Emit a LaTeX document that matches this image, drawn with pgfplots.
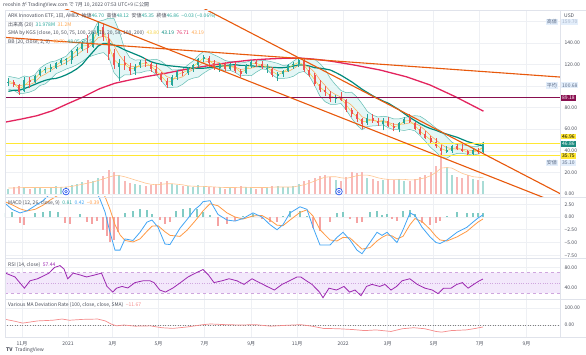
\documentclass[border=0pt]{standalone}
\usepackage{fontspec}
\setmainfont{Noto Sans CJK JP}
\usepackage{pgfplots}
\pgfplotsset{compat=1.18}
\usepackage{pgfplotstable}

\definecolor{upc}{HTML}{26A69A}
\definecolor{dnc}{HTML}{EF5350}
\definecolor{upv}{HTML}{A9DCD6}
\definecolor{dnv}{HTML}{F8B9B7}
\definecolor{sma10}{HTML}{F7D23A}
\definecolor{sma20}{HTML}{FFA64D}
\definecolor{vmac}{HTML}{FFC58F}
\definecolor{sma50}{HTML}{00897B}
\definecolor{sma200}{HTML}{E3245E}
\definecolor{bbline}{HTML}{62BDB3}
\definecolor{bbfill}{HTML}{E4F6F6}
\definecolor{trend}{HTML}{E8590C}
\definecolor{maroon}{HTML}{880E4F}
\definecolor{hyellow}{HTML}{FFE733}
\definecolor{gridc}{HTML}{EEF0F4}
\definecolor{framec}{HTML}{E0E3EB}
\definecolor{macdb}{HTML}{42A5F5}
\definecolor{macdo}{HTML}{FF9A45}
\definecolor{hposc}{HTML}{80CBC4}
\definecolor{hnegc}{HTML}{F5A3A3}
\definecolor{rsic}{HTML}{9C27B0}
\definecolor{rsifill}{HTML}{F3E8FB}
\definecolor{rsiline}{HTML}{CFA6DE}
\definecolor{devc}{HTML}{F58C8C}
\definecolor{txt}{HTML}{4A4E5A}
\definecolor{lblbg}{HTML}{E3EEFB}
\definecolor{lbltx}{HTML}{5B6B86}
\definecolor{lbltxl}{HTML}{A9B5C8}
\definecolor{divc}{HTML}{2F5CF0}
\definecolor{closec}{HTML}{1E8C80}

\newcommand{\sm}{\fontsize{5}{6}\selectfont}

% weekly candles, x = days since 2020-11-01
\pgfplotstableread{
d o h l c v
-18 103 107 100 104 5
3 95 108 94 106 6
17 104 110 103 109 6
24 110 116 109 115 6
31 115 118 112 116 5
38 116 120 113 118 6
45 117 122 116 121 7
52 121 126 119 124 6
59 124 126 119 125 6
66 124 133 120 132 8
73 132 136 128 134 9
80 134 142 132 140 11
94 136 150 135 148 12
101 149 159.7 146 156 15
129 118 125 105 121 18
150 114 120 110 118 9
157 119 124 117 122 8
199 101 110 100 108 9
206 108 115 106 113 8
220 112 118 110 117 7
227 117 120 113 119 6
234 119 126 118 125 8
241 125 129 122 127 7
262 117 121 113 120 6
276 116 121 115 120 6
297 112 120 111 119 6
304 119 124 117 122 6
325 116 120 112 117 6
339 109 113 105 111 7
346 111 115 108 114 6
353 114 120 113 119 6
360 119 122 116 120 7
367 120 126 118 124 9
416 88 92 84 90 13
458 66 74 64 70 15
479 65 70 59 68 13
500 60 67 57 66 14
507 66 71 65 69 12
563 39 44 38 40.5 25
570 40 45 38 44 18
598 37 42 36 41 14
612 39 48.12 38 46.86 12
}\upt

\pgfplotstableread{
d o h l c v
-11 104 106 99 101 6
-4 101 102 92 94 7
10 106 108 98 104 5
87 140 147 131 135 13
108 155 157 142 145 17
115 144 148 124 130 22
122 131 134 116 119 20
136 121 128 115 119 12
143 118 121 110 114 10
164 122 126 118 121 7
171 120 122 113 116 8
178 116 120 110 112 9
185 111 113 104 106 11
192 105 107 98 101 12
213 113 116 109 112 7
248 126 128 118 121 6
255 121 124 115 118 6
269 120 122 114 116 5
283 119 122 112 114 6
290 114 116 108 111 7
311 122 125 118 120 5
318 120 123 116 118 6
332 116 118 108 110 7
374 124 125 113 115 12
381 115 118 108 110 13
388 110 112 100 102 15
395 102 106 94 96 17
402 96 100 91 94 18
409 93 95 85 88 16
423 90 94 86 87 12
430 87 88 76 78 16
437 78 80 71 74 20
444 74 76 67 69 19
451 69 70 60 65 20
465 70 74 66 68 14
472 68 70 63 66 12
486 68 71 62 63 14
493 63 66 58 61 13
514 70 74 66 67 12
521 66 67 59 60 14
528 60 62 55 56 16
535 56 58 51 52 18
542 52 54 47 48 20
549 48 52 43 44 26
556 43 45 35.5 40 38
577 44 47 41 42 16
584 42 46 39 40 15
591 40 41 35.1 37 18
605 41 43 37 39 13
}\dnt

\pgfplotstableread{
d s10 s20 s50 bu bl vma
-18 105 103 95.1 109 97 5.5
-11 102.5 102 96.0 108 96 5.6
-4 97.5 100 96.0 107 93 5.8
3 100 101.3 97.6 109.3 93.3 6
10 105 101.3 99.4 108.3 94.3 6
17 106.5 103.3 101.5 110.3 96.3 6
24 112 108.5 103.5 116.5 100.5 6
31 115.5 111 105.3 120 102 6
38 116.5 114.3 106.5 122.3 106.3 6
45 119 117.3 107 123.3 111.3 6
52 122.5 119.5 108.5 125.5 113.5 6.2
59 124.5 121.8 110.5 127.8 115.8 6.5
66 128.5 125.5 113 133.5 117.5 7
73 133 128.8 116 137.8 119.8 8
80 137 132.8 120 142.8 122.8 9
87 137.5 135.3 126 144.3 126.3 10
94 141.5 139.3 131.5 150.3 128.3 11
101 152 144.8 137 159.8 129.8 12.5
108 150.5 146 139.5 161 131 14
115 137.5 144.8 139.5 162.8 126.8 15.5
122 124.5 137.5 138 162.5 112.5 17
129 120 128.8 136 150.8 106.8 17
136 120 122.3 133.5 134.3 110.3 16
143 116.5 118.3 131.5 126.3 110.3 14.5
150 116 118 129.5 124 112 13
157 120 118.3 127.5 124.3 112.3 11.5
164 121.5 118.8 125 123.8 113.8 10
171 118.5 119.3 122.5 124.3 114.3 9
178 114 117.8 121 124.8 110.8 8.5
185 109 113.8 120 122.8 104.8 9
192 103.5 108.8 119 118.8 98.8 9.5
199 104.5 106.8 118.5 114.8 98.8 9.5
206 110.5 107 118 115 99 9
213 112.5 108.5 117.5 115.5 101.5 8.5
220 114.5 112.5 117 119.5 105.5 7.5
227 118 115.3 116.5 123.3 107.3 7.2
234 122 118.3 116.5 128.3 108.3 7
241 126 122 116.5 132 112 7
248 124 123 117 131 115 6.8
255 119.5 122.8 117.5 128.8 116.8 6.5
262 119 121.5 118.2 126.5 116.5 6.2
269 118 118.8 118.8 123.8 113.8 6
276 118 118.5 119.5 122.5 114.5 6
283 117 117.5 119.7 122.5 112.5 6
290 112.5 115.3 119.1 121.3 109.3 6.2
297 115 116 119.1 122 110 6.2
304 120.5 116.5 118.8 123.5 109.5 6
311 121 118 118.1 123 113 6
318 119 119.8 117.8 123.8 115.8 6
325 117.5 119.3 117.7 123.3 115.3 6
332 113.5 116.3 117.2 122.3 110.3 6.3
339 110.5 114 117 121 107 6.5
346 112.5 113 117 119 107 6.5
353 116.5 113.5 117.5 119.5 107.5 6.5
360 119.5 116 118.5 123 109 6.5
367 122 119.3 119.5 126.3 112.3 7.5
374 119.5 119.5 119.5 125.5 113.5 8.5
381 112.5 117.3 118.5 125.3 109.3 10
388 106 112.8 117 124.8 100.8 12
395 99 105.8 116.5 120.8 90.8 14
402 95 100.5 115.8 115.5 85.5 15.5
409 91 95 114.8 107 83 16
416 89 92 112.5 101 83 16
423 88.5 89.8 110 95.8 83.8 15
430 82.5 85.8 107 93.8 77.8 14.5
437 76 82.3 104 94.3 70.3 15.5
444 71.5 77 100.5 90 64 17
451 67 71.5 97 83.5 59.5 17.5
458 67.5 69.5 94 76.5 62.5 17.5
465 69 68 91 73 63 16.5
472 67 67.3 88.5 71.3 63.3 15
479 67 68 86 72 64 14
486 65.5 66.3 84 71.3 61.3 13.5
493 62 64.5 81 69.5 59.5 13.5
500 63.5 64.5 78 69.5 59.5 13.5
507 67.5 64.8 74.5 70.8 58.8 13.5
514 68 65.8 71 71.8 59.8 13
521 63.5 65.5 68 72.5 58.5 13
528 58 63 65 72 54 14
535 54 58.8 62.5 68.8 48.8 15
542 50 54 60.5 65 43 17
549 46 50 59 61 39 20
556 42 46 57 58 34 24
563 40 43 55.5 53 33 24.5
570 42 42 54 48 36 24
577 43 41.5 52.5 45.5 37.5 21.5
584 41 41.5 50.5 45.5 37.5 19
591 38.5 40.8 48.5 44.8 36.8 17.5
598 39 40 47 44 36 16
605 40 40.5 45.5 44 37 15.5
612 43.8 43.2 44.5 48.05 39.53 15
}\lines

\pgfplotstableread{
d s
-22.5 66.5
0 69.5
20 72.5
40 77
60 83.4
80 89.5
103 97.5
123 102.5
143 105.6
167 109
192 112
214 115
236 117.6
258 120
280 122.2
303 124
325 125
347 125.7
369 125.9
390 124.7
410 123
440 119.5
475 114.8
510 108.5
541 101
575 90
612 76.7
}\smaLong

% lower panes: x = horizontal position on the reference chart
\pgfplotstableread{
x b o
5 2.7 3.0
12 1.5 2.4
20 0.8 1.6
27 1.2 1.2
35 2.2 1.5
43 3.2 2.3
50 4.5 3.3
60 5.5 4.5
70 5.0 5.3
80 6.0 5.5
90 6.5 6.0
95 5.5 6.0
100 3.5 5.5
105 1.0 4.0
110 -3.0 1.5
115 -6.5 -1.5
120 -6.5 -3.5
125 -4.3 -4.6
133 -4.6 -4.9
140 -3.0 -4.3
147 -1.0 -2.8
152 -0.6 -1.8
158 -2.0 -1.7
165 -5.3 -2.9
170 -5.4 -3.6
180 -2.2 -3.8
187 -0.5 -2.6
195 1.5 -0.8
200 2.3 0.4
203 3.0 1.2
210 3.2 2.6
218 0.5 2.2
227 -0.6 0.8
235 -0.8 0
243 -0.3 -0.4
253 0.8 0.2
262 0 0.3
270 -1.5 -0.6
277 -2.5 -1.6
283 -1.5 -1.7
290 0.8 -0.6
300 2.0 0.9
307 1.5 1.4
313 -2.0 0.2
320 -5.5 -2.5
330 -5.5 -4.5
337 -4.0 -4.7
343 -3.0 -4.0
350 -4.5 -4.1
357 -6.5 -5.4
362 -7.2 -6.3
370 -5.0 -6.0
377 -3.0 -4.7
382 -3.6 -4.0
387 -3.0 -3.5
392 -4.0 -3.7
397 -5.0 -4.3
403 -2.5 -3.8
410 0.8 -1.5
415 0.3 -0.3
422 -2.0 -0.9
430 -3.9 -2.4
436 -5.0 -3.8
440 -5.2 -4.5
447 -4.5 -4.7
457 -3.0 -3.9
467 -2.0 -2.8
473 -1.0 -1.8
478 -0.2 -1.0
483 0.42 -0.39
}\macd

\pgfplotstableread{
x h
5 0.8
12 1.0
35 0.7
43 0.9
50 1.2
58 1.0
80 0.5
125 0.8
133 1.2
140 1.6
147 1.3
152 0.5
176 1.2
183 1.5
190 1.7
197 1.6
203 0.9
210 0.3
243 0.1
253 0.6
283 0.2
290 1.2
300 1.1
307 0.1
337 0.7
343 1.0
370 1.0
377 1.2
382 0.4
387 0.5
403 1.2
410 1.4
415 0.6
447 0.2
457 0.9
467 0.8
473 0.8
478 0.8
483 0.81
}\hpos

\pgfplotstableread{
x h
20 -1.2
24 -1.6
65 -1.2
70 -1.4
87 -1.0
92 -1.3
97 -0.8
103 -2.5
107 -3.8
110 -4.9
114 -4.6
118 -3.0
160 -0.6
165 -1.3
170 -0.9
218 -1.7
227 -1.4
235 -0.8
262 -0.3
270 -0.9
277 -0.9
313 -2.2
320 -2.8
330 -1.0
350 -0.4
357 -1.1
362 -0.9
392 -0.3
397 -0.7
422 -1.1
430 -1.5
436 -1.2
440 -0.7
}\hneg

\pgfplotstableread{
x r
5.6 68.9
15 61.5
24.4 39.6
30 54
37.6 58
49 69
54.5 80
60 83.7
64 77
67.7 58
73.3 69
80.8 65
86.5 61.5
94 65
101.5 69
107 43
112.8 32
116.5 39.6
122 43
127.8 40
135 50.5
143 54
150 54
154 50.5
159.8 36
165.4 32
173 40
180.5 50.5
188 61.5
195.5 69
203 76
208.6 65
214 50.5
222 54
229 58
237 54
244 47
252 58
259.4 50.5
267 43
274.4 36
282 47
289.5 54
297 61.5
300.8 61.5
306.4 54
312 47
319.5 32
323 21
329 39.6
336.5 36
344 43
349.6 32
355 36
361 25
366.5 43
372 47
379.7 43
385 47
391 36
396.6 43
402 54
409.8 58
417.3 47
425 39.6
432.3 36
438 29
443.6 39.6
451 39.6
456.8 47
462.4 50.5
468 39.6
473.7 47
479.3 54
483 57.44
}\rsi

\pgfplotstableread{
x v
5.6 33
15 22
22.6 11
37.6 24
52.6 28
62 35
69.5 28
82.7 33
97.7 35
105.3 24
111 6
116.5 -5
124 0
135.3 -7
150.4 -5
161.7 -16
173 -20
188 -11
203 2
210.5 6
225.6 2
240.6 0
255.6 2
270.7 -7
285.7 -2
300.8 2
312 -7
323.3 -20
338.3 -22
353.4 -27
364.7 -33
376 -29
391 -38
402.3 -22
413.5 -16
424.8 -22
436 -38
441.7 -42
451 -33
466 -29
473.7 -22
483 -11.67
}\dev

\begin{document}
\begin{tikzpicture}
\useasboundingbox (0pt,0pt) rectangle (586pt,-355pt);
\fill[white] (0pt,0pt) rectangle (586pt,-355pt);

\pgfplotsset{
  pane/.style={
    scale only axis, width=555pt,
    axis line style={draw=none},
    major tick length=0pt,
    grid=major, grid style={gridc, line width=0.5pt},
    yticklabel pos=right,
    yticklabel style={font=\sm, text=txt, anchor=west, xshift=1pt},
    xticklabels={},
  }
}

% ===== main price pane =====
\begin{axis}[pane, at={(5pt,-197pt)}, anchor=south west, height=187pt,
  xmin=-22.5, xmax=713.5, ymin=-2.8, ymax=170.4,
  xtick={0,61,120,181,242,304,365,426,485,546,607,669},
  ytick={0,20,40,60,80,100,120,140,160},
  yticklabels={0.00,20.00,40.00,60.00,80.00,{},120.00,140.00,{}},
]
% Bollinger band area (upper band forward, lower band back)
\addplot[fill=bbfill, draw=none] coordinates {
(-18,109) (-11,108) (-4,107) (3,109.3) (10,108.3) (17,110.3) (24,116.5) (31,120) (38,122.3) (45,123.3) (52,125.5) (59,127.8) (66,133.5) (73,137.8) (80,142.8) (87,144.3) (94,150.3) (101,159.8) (108,161) (115,162.8) (122,162.5) (129,150.8) (136,134.3) (143,126.3) (150,124) (157,124.3) (164,123.8) (171,124.3) (178,124.8) (185,122.8) (192,118.8) (199,114.8) (206,115) (213,115.5) (220,119.5) (227,123.3) (234,128.3) (241,132) (248,131) (255,128.8) (262,126.5) (269,123.8) (276,122.5) (283,122.5) (290,121.3) (297,122) (304,123.5) (311,123) (318,123.8) (325,123.3) (332,122.3) (339,121) (346,119) (353,119.5) (360,123) (367,126.3) (374,125.5) (381,125.3) (388,124.8) (395,120.8) (402,115.5) (409,107) (416,101) (423,95.8) (430,93.8) (437,94.3) (444,90) (451,83.5) (458,76.5) (465,73) (472,71.3) (479,72) (486,71.3) (493,69.5) (500,69.5) (507,70.8) (514,71.8) (521,72.5) (528,72) (535,68.8) (542,65) (549,61) (556,58) (563,53) (570,48) (577,45.5) (584,45.5) (591,44.8) (598,44) (605,44) (612,48.05)
(612,39.53) (605,37) (598,36) (591,36.8) (584,37.5) (577,37.5) (570,36) (563,33) (556,34) (549,39) (542,43) (535,48.8) (528,54) (521,58.5) (514,59.8) (507,58.8) (500,59.5) (493,59.5) (486,61.3) (479,64) (472,63.3) (465,63) (458,62.5) (451,59.5) (444,64) (437,70.3) (430,77.8) (423,83.8) (416,83) (409,83) (402,85.5) (395,90.8) (388,100.8) (381,109.3) (374,113.5) (367,112.3) (360,109) (353,107.5) (346,107) (339,107) (332,110.3) (325,115.3) (318,115.8) (311,113) (304,109.5) (297,110) (290,109.3) (283,112.5) (276,114.5) (269,113.8) (262,116.5) (255,116.8) (248,115) (241,112) (234,108.3) (227,107.3) (220,105.5) (213,101.5) (206,99) (199,98.8) (192,98.8) (185,104.8) (178,110.8) (171,114.3) (164,113.8) (157,112.3) (150,112) (143,110.3) (136,110.3) (129,106.8) (122,112.5) (115,126.8) (108,131) (101,129.8) (94,128.3) (87,126.3) (80,122.8) (73,119.8) (66,117.5) (59,115.8) (52,113.5) (45,111.3) (38,106.3) (31,102) (24,100.5) (17,96.3) (10,94.3) (3,93.3) (-4,93) (-11,96) (-18,97)
};
\addplot[bbline, line width=0.5pt] table[x=d,y=bu]{\lines};
\addplot[bbline, line width=0.5pt] table[x=d,y=bl]{\lines};
% volume
\addplot[ycomb, upv, line width=2pt] table[x=d,y=v]{\upt};
\addplot[ycomb, dnv, line width=2pt] table[x=d,y=v]{\dnt};
\addplot[vmac, line width=0.6pt] table[x=d,y=vma]{\lines};
% moving averages
\addplot[sma200, line width=1.3pt] table[x=d,y=s]{\smaLong};
\addplot[sma50, line width=1.2pt] table[x=d,y=s50]{\lines};
\addplot[sma20, line width=0.5pt] table[x=d,y=s20]{\lines};
\addplot[sma10, line width=0.5pt] table[x=d,y=s10]{\lines};
% candles: wicks and bodies as vertical segments
\addplot[upc, line width=0.5pt, quiver={u=0, v=\thisrow{h}-\thisrow{l}}] table[x=d, y=l]{\upt};
\addplot[dnc, line width=0.5pt, quiver={u=0, v=\thisrow{h}-\thisrow{l}}] table[x=d, y=l]{\dnt};
\addplot[upc, line width=2pt, quiver={u=0, v=\thisrow{c}-\thisrow{o}}] table[x=d, y=o]{\upt};
\addplot[dnc, line width=2pt, quiver={u=0, v=\thisrow{o}-\thisrow{c}}] table[x=d, y=c]{\dnt};
% horizontal levels
\addplot[maroon, line width=1.6pt] coordinates {(-22.5,89.18) (713.5,89.18)};
\addplot[hyellow, line width=1.2pt] coordinates {(-22.5,46.96) (713.5,46.96)};
\addplot[hyellow, line width=1.2pt] coordinates {(-22.5,35.75) (713.5,35.75)};
% trend lines
\addplot[trend, line width=1.1pt] coordinates {(-22.5,145.0) (713.5,108.3)};
\addplot[trend, line width=1.1pt] coordinates {(229.4,176.1) (713.5,0.4)};
\addplot[trend, line width=1.1pt] coordinates {(50.4,173.5) (713.5,-9.3)};
% dividend markers
\addplot[only marks, mark=*, mark size=3.3pt, mark options={draw=divc, fill=white, line width=0.7pt}] coordinates {(58.4,2.2) (420.4,2.2)};
\addplot[only marks, mark=o, mark size=1.4pt, mark options={draw=divc, line width=0.5pt}] coordinates {(58.4,2.2) (420.4,2.2)};
\end{axis}

% ===== MACD pane =====
\begin{axis}[pane, at={(5pt,-258pt)}, anchor=south west, height=61pt,
  xmin=5, xmax=560, ymin=-8.04, ymax=3.92,
  xtick={22,68,112.5,158.5,204.5,251.2,297.2,343.2,387.7,433.7,479.7,526.4},
  ytick={-7.5,-5,-2.5,0,2.5},
  yticklabels={−7.50,−5.00,−2.50,0.00,2.50},
]
\addplot[ycomb, hposc, line width=1.7pt] table[x=x,y=h]{\hpos};
\addplot[ycomb, hnegc, line width=1.7pt] table[x=x,y=h]{\hneg};
\addplot[macdo, line width=0.8pt] table[x=x,y=o]{\macd};
\addplot[macdb, line width=0.8pt] table[x=x,y=b]{\macd};
\end{axis}

% ===== RSI pane =====
\begin{axis}[pane, at={(5pt,-299pt)}, anchor=south west, height=41pt,
  xmin=5, xmax=560, ymin=18.5, ymax=98.5,
  xtick={22,68,112.5,158.5,204.5,251.2,297.2,343.2,387.7,433.7,479.7,526.4},
  ytick={40,80},
  yticklabels={40.00,80.00},
]
\addplot[fill=rsifill, draw=none] coordinates {(5,30) (560,30) (560,70) (5,70) (5,30)};
\addplot[rsiline, dashed, line width=0.4pt] coordinates {(5,70) (560,70)};
\addplot[rsiline, dashed, line width=0.4pt] coordinates {(5,30) (560,30)};
\addplot[rsiline, dotted, line width=0.4pt] coordinates {(5,50) (560,50)};
\addplot[rsic, line width=0.8pt] table[x=x,y=r]{\rsi};
\end{axis}

% ===== deviation pane =====
\begin{axis}[pane, at={(5pt,-337pt)}, anchor=south west, height=38pt,
  xmin=5, xmax=560, ymin=-70.6, ymax=152.9,
  xtick={22,68,112.5,158.5,204.5,251.2,297.2,343.2,387.7,433.7,479.7,526.4},
  xticklabels={11月,2021,3月,5月,7月,9月,11月,2022,3月,5月,7月,9月},
  xticklabel style={font=\sm, text=txt, yshift=-1pt},
  ytick={0,100},
  yticklabels={0.00,100.00},
]
\addplot[gray, dotted, line width=0.5pt] coordinates {(5,0) (560,0)};
\addplot[devc, line width=0.7pt] table[x=x,y=v]{\dev};
\end{axis}

% ===== frame =====
\draw[framec, line width=0.5pt] (5pt,-10pt) rectangle (586pt,-337pt);
\foreach \yy in {197,258,299} \draw[framec, line width=0.6pt] (5pt,-\yy pt) -- (586pt,-\yy pt);
\draw[framec, line width=0.5pt] (560pt,-10pt) -- (560pt,-337pt);

% ===== header legends =====
\begin{scope}[every node/.style={anchor=west, inner sep=0pt, font=\sm, text=txt}]
\node at (3pt,-5pt) {reoshin が TradingView.com で 7月 10, 2022 07:53 UTC+9 に公開};
\node at (8pt,-16pt) {ARK Innovation ETF, 1日, AMEX\enspace 始値\textcolor{upc}{46.70}\enspace 高値\textcolor{upc}{48.12}\enspace 安値\textcolor{upc}{45.35}\enspace 終値\textcolor{upc}{46.86}\enspace \textcolor{upc}{−0.03 (−0.06\%)}};
\node at (8pt,-24.5pt) {出来高 (20)\enspace \textcolor{upc}{31.978M}\enspace \textcolor{sma20}{31.2M}};
\node at (8pt,-33pt) {SMA by KGS (close, 10, 50, 75, 100, 200, 10, 20, 50, 100, 200)\enspace \textcolor{sma10}{43.80}\enspace \textcolor{sma50}{43.19}\enspace \textcolor{sma200}{76.71}\enspace \textcolor{sma20}{43.19}};
\node at (8pt,-41.5pt) {BB (20, close, 2, 0)\enspace \textcolor{sma20}{43.79}\enspace \textcolor{upc}{48.05}\enspace \textcolor{upc}{39.53}};
\node at (8pt,-202.5pt) {MACD (12, 26, close, 9)\enspace \textcolor{upc}{0.81}\enspace \textcolor{macdb}{0.42}\enspace \textcolor{macdo}{−0.39}};
\node at (8pt,-264.5pt) {RSI (14, close)\enspace \textcolor{rsic}{57.44}};
\node at (8pt,-305pt) {Various MA Deviation Rate (100, close, close, SMA)\enspace \textcolor{devc}{−11.67}};
\node at (6pt,-350pt) {\textbf{TV}\enspace TradingView};
\node at (564pt,-16pt) {USD};
\end{scope}

% ===== price-scale labels =====
\begin{scope}[every node/.style={inner sep=1pt, font=\sm}]
\node[anchor=east, fill=lblbg, text=lbltx] at (558pt,-22pt) {高値};
\node[anchor=west, fill=lblbg, text=lbltxl] at (561pt,-22pt) {159.70};
\node[anchor=east, fill=lblbg, text=lbltx] at (558pt,-85.3pt) {平均};
\node[anchor=west, fill=lblbg, text=lbltx] at (561pt,-85.3pt) {100.68};
\node[anchor=west, fill=maroon, text=white] at (561pt,-97.7pt) {89.18};
\node[anchor=west, fill=hyellow, text=black] at (561pt,-136.5pt) {46.96};
\node[anchor=west, fill=closec, text=white] at (561pt,-143.8pt) {46.86};
\node[anchor=west, fill=hyellow, text=black] at (561pt,-155.8pt) {35.75};
\node[anchor=east, fill=lblbg, text=lbltx] at (558pt,-163pt) {安値};
\node[anchor=west, fill=lblbg, text=lbltx] at (561pt,-163pt) {35.10};
\end{scope}
\end{tikzpicture}
\end{document}
